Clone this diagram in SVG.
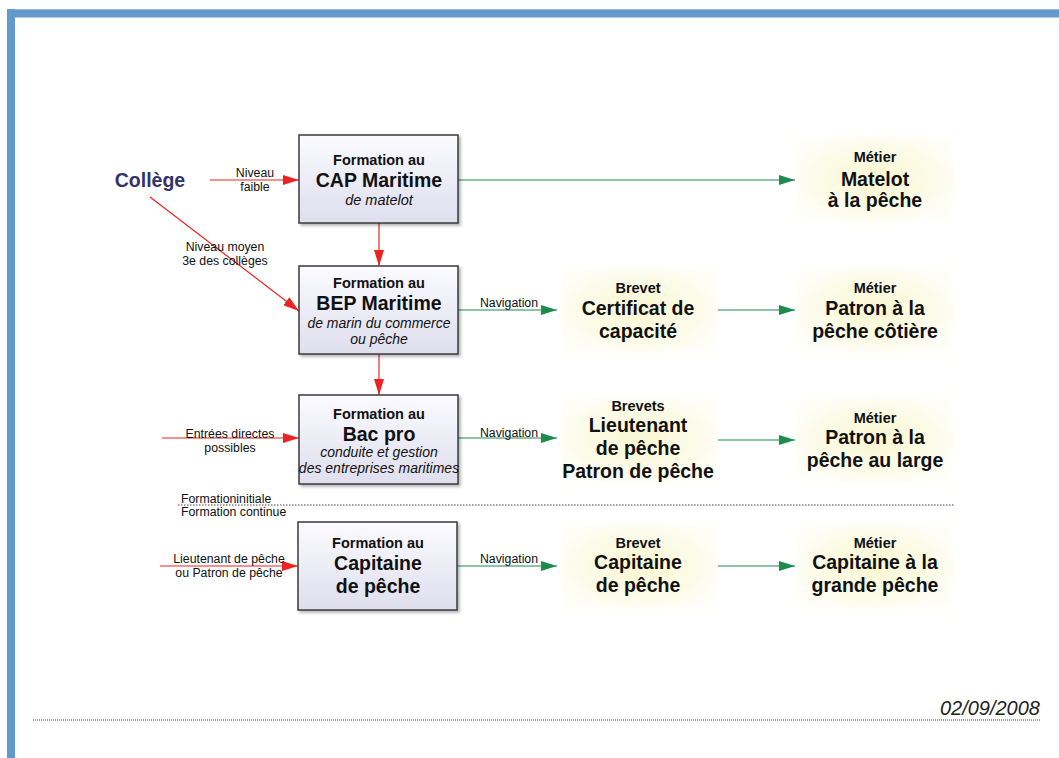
<svg xmlns="http://www.w3.org/2000/svg" width="1059" height="758" viewBox="0 0 1059 758">
<defs>
<linearGradient id="boxg" x1="0" y1="0" x2="0" y2="1">
<stop offset="0" stop-color="#fbfbff"/>
<stop offset="1" stop-color="#dedeee"/>
</linearGradient>
<radialGradient id="glow" cx="0.5" cy="0.5" r="0.55">
<stop offset="0" stop-color="#faf7d2"/>
<stop offset="0.7" stop-color="#fcfbe8"/>
<stop offset="1" stop-color="#fefef8"/>
</radialGradient>
<filter id="blur" x="-20%" y="-20%" width="140%" height="140%">
<feGaussianBlur stdDeviation="4"/>
</filter>
<filter id="sh" x="-10%" y="-10%" width="130%" height="130%">
<feDropShadow dx="2" dy="2" stdDeviation="1.5" flood-color="#000" flood-opacity="0.3"/>
</filter>
<marker id="ar" markerWidth="16" markerHeight="10" refX="16" refY="5" orient="auto" markerUnits="userSpaceOnUse">
<path d="M0,0 L16,5 L0,10 Z" fill="#ee2222"/>
</marker>
<marker id="ag" markerWidth="16" markerHeight="10" refX="16" refY="5" orient="auto" markerUnits="userSpaceOnUse">
<path d="M0,0 L16,5 L0,10 Z" fill="#1e8a4c"/>
</marker>
</defs>
<style>
text{font-family:"Liberation Sans",Arial,sans-serif;text-anchor:middle;fill:#111}
.t1{font-size:14.5px;font-weight:bold}
.t2{font-size:19.5px;font-weight:bold}
.it{font-size:14px;font-style:italic}
.sm{font-size:12.3px}
.box{fill:url(#boxg);stroke:#3a3a3a;stroke-width:1.5}
.glow{fill:url(#glow)}
.red{stroke:#ee2222;stroke-width:1.2;fill:none;marker-end:url(#ar)}
.grn{stroke:#1e8a4c;stroke-width:1.2;fill:none;marker-end:url(#ag)}
</style>
<rect width="1059" height="758" fill="#fff"/>
<g id="frame">
<rect x="7" y="9" width="1052" height="8.5" fill="#6399cc"/>
<rect x="7" y="9" width="1052" height="1" fill="#9bbbdd"/>
<rect x="7" y="9" width="8" height="749" fill="#6399cc"/>
</g>
<g id="glows" filter="url(#blur)">
<rect class="glow" x="797" y="137" width="156" height="84"/>
<rect class="glow" x="561" y="268" width="156" height="84"/>
<rect class="glow" x="797" y="268" width="156" height="84"/>
<rect class="glow" x="561" y="397" width="156" height="85"/>
<rect class="glow" x="797" y="397" width="156" height="85"/>
<rect class="glow" x="561" y="524" width="156" height="84"/>
<rect class="glow" x="797" y="524" width="156" height="84"/>
</g>
<g id="connectors">
<line class="red" x1="210" y1="180" x2="299" y2="180"/>
<line class="red" x1="150" y1="197" x2="299" y2="311"/>
<line class="red" x1="379" y1="223" x2="379" y2="266"/>
<line class="red" x1="379" y1="354" x2="379" y2="395"/>
<line class="red" x1="162" y1="438" x2="299" y2="438"/>
<line class="red" x1="160" y1="566" x2="298" y2="566"/>
<line class="grn" x1="458" y1="180" x2="795" y2="180"/>
<line class="grn" x1="458" y1="310" x2="557" y2="310"/>
<line class="grn" x1="718" y1="310" x2="795" y2="310"/>
<line class="grn" x1="458" y1="438" x2="557" y2="438"/>
<line class="grn" x1="718" y1="440" x2="795" y2="440"/>
<line class="grn" x1="458" y1="566" x2="557" y2="566"/>
<line class="grn" x1="718" y1="566" x2="795" y2="566"/>
<text class="sm" x="255" y="177">Niveau</text>
<text class="sm" x="255" y="191">faible</text>
<text class="sm" x="225" y="251">Niveau moyen</text>
<text class="sm" x="225" y="265">3e des collèges</text>
<text class="sm" x="230" y="438">Entrées directes</text>
<text class="sm" x="230" y="452">possibles</text>
<text class="sm" x="229" y="563">Lieutenant de pêche</text>
<text class="sm" x="229" y="577">ou Patron de pêche</text>
<text class="sm" x="509" y="307">Navigation</text>
<text class="sm" x="509" y="437">Navigation</text>
<text class="sm" x="509" y="563">Navigation</text>
</g>
<g id="college">
<text x="150" y="187" style="font-size:19.5px;font-weight:bold;fill:#33336b">Collège</text>
</g>
<g id="cap">
<rect class="box" x="299" y="135" width="159" height="88" filter="url(#sh)"/>
<text class="t1" x="379" y="165">Formation au</text>
<text class="t2" x="379" y="187">CAP Maritime</text>
<text class="it" x="379" y="205" style="font-size:14.5px">de matelot</text>
</g>
<g id="bep">
<rect class="box" x="299" y="266" width="159" height="88" filter="url(#sh)"/>
<text class="t1" x="379" y="288">Formation au</text>
<text class="t2" x="379" y="310">BEP Maritime</text>
<text class="it" x="379" y="328">de marin du commerce</text>
<text class="it" x="379" y="344">ou pêche</text>
</g>
<g id="bac">
<rect class="box" x="299" y="395" width="159" height="89" filter="url(#sh)"/>
<text class="t1" x="379" y="419">Formation au</text>
<text class="t2" x="379" y="441">Bac pro</text>
<text class="it" x="379" y="457">conduite et gestion</text>
<text class="it" x="379" y="473">des entreprises maritimes</text>
</g>
<g id="capitaine">
<rect class="box" x="298" y="522" width="159" height="88" filter="url(#sh)"/>
<text class="t1" x="378" y="548">Formation au</text>
<text class="t2" x="378" y="570">Capitaine</text>
<text class="t2" x="378" y="593">de pêche</text>
</g>
<g id="metier1">
<text class="t1" x="875" y="162">Métier</text>
<text class="t2" x="875" y="186">Matelot</text>
<text class="t2" x="875" y="207">à la pêche</text>
</g>
<g id="brevet2">
<text class="t1" x="638" y="293">Brevet</text>
<text class="t2" x="638" y="315">Certificat de</text>
<text class="t2" x="638" y="338">capacité</text>
</g>
<g id="metier2">
<text class="t1" x="875" y="293">Métier</text>
<text class="t2" x="875" y="315">Patron à la</text>
<text class="t2" x="875" y="338">pêche côtière</text>
</g>
<g id="brevet3">
<text class="t1" x="638" y="411">Brevets</text>
<text class="t2" x="638" y="432">Lieutenant</text>
<text class="t2" x="638" y="455">de pêche</text>
<text class="t2" x="638" y="478">Patron de pêche</text>
</g>
<g id="metier3">
<text class="t1" x="875" y="423">Métier</text>
<text class="t2" x="875" y="444">Patron à la</text>
<text class="t2" x="875" y="467">pêche au large</text>
</g>
<g id="brevet4">
<text class="t1" x="638" y="548">Brevet</text>
<text class="t2" x="638" y="569">Capitaine</text>
<text class="t2" x="638" y="592">de pêche</text>
</g>
<g id="metier4">
<text class="t1" x="875" y="548">Métier</text>
<text class="t2" x="875" y="569">Capitaine à la</text>
<text class="t2" x="875" y="592">grande pêche</text>
</g>
<g id="separator">
<line x1="178" y1="505" x2="955" y2="505" stroke="#444" stroke-width="1" stroke-dasharray="1.5,1.5"/>
<text class="sm" x="181" y="503" style="text-anchor:start">Formationinitiale</text>
<text class="sm" x="181" y="516" style="text-anchor:start">Formation continue</text>
</g>
<g id="footer">
<line x1="33" y1="720" x2="1040" y2="720" stroke="#444" stroke-width="1" stroke-dasharray="1,1"/>
<text x="1040" y="715" style="text-anchor:end;font-size:20px;font-style:italic;fill:#222">02/09/2008</text>
</g>
</svg>
